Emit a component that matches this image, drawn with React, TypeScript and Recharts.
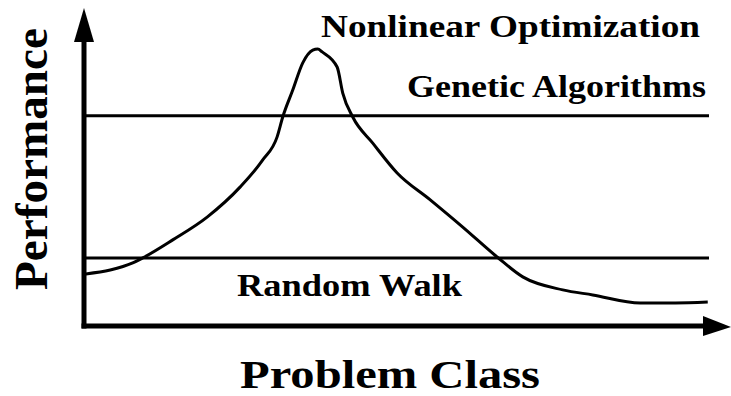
import { LineChart, Line, XAxis, YAxis, ReferenceLine } from "recharts";

// curve through problem classes (x) and performance (y), both on a 0-100 scale
const problemClass = [
  0.3, 4.2, 7.8, 9.4, 14.2, 19.7, 25.0, 28.6, 30.9, 31.8, 33.4, 35.0, 36.6, 37.4, 38.1,
  40.5, 41.4, 43.0, 46.2, 50.1, 55.4, 60.6, 66.1, 70.2, 76.6, 81.4, 89.0, 94.6, 99.8,
];
const nonlinearPerf = [
  17.6, 18.9, 21.3, 23.0, 29.1, 36.8, 47.0, 56.1, 63.9, 70.6, 79.7, 88.9, 93.2, 93.6, 92.6,
  87.5, 78.7, 70.6, 61.8, 51.7, 42.6, 33.4, 23.3, 16.6, 12.2, 10.5, 7.8, 7.8, 8.1,
];

// flat performance of the two reference methods
const methodNames = ["Genetic Algorithms", "Random Walk"];
const methodLevels = [71, 23];

const curveName = "Nonlinear Optimization";
const xTitle = "Problem Class";
const yTitle = "Performance";

const data = problemClass.map((x, i) => ({ x, perf: nonlinearPerf[i] }));

const font = "'Liberation Serif', 'Times New Roman', serif";

export default function App() {
  return (
    <div style={{ position: "absolute", left: 0, top: 0, width: 731, height: 396, background: "#fff" }}>
      <LineChart width={731} height={396} data={data} margin={{ top: 30, right: 22, left: 83, bottom: 69 }}>
        <defs>
          <marker id="arrowX" markerUnits="userSpaceOnUse" markerWidth={30} markerHeight={24} viewBox="0 0 30 24" refX={6} refY={12} orient="auto">
            <path d="M0,2 L28,13 L0,22 Z" fill="#000" />
          </marker>
          <marker id="arrowY" markerUnits="userSpaceOnUse" markerWidth={36} markerHeight={24} viewBox="0 0 36 24" refX={12} refY={12} orient="auto-start-reverse">
            <path d="M0,2 L34,12 L0,22 Z" fill="#000" />
          </marker>
        </defs>
        <XAxis
          dataKey="x"
          type="number"
          domain={[0, 100]}
          height={1}
          tick={false}
          tickLine={false}
          axisLine={{ stroke: "#000", strokeWidth: 5, strokeLinecap: "square", markerEnd: "url(#arrowX)" }}
        />
        <YAxis
          type="number"
          domain={[0, 100]}
          width={1}
          tick={false}
          tickLine={false}
          axisLine={{ stroke: "#000", strokeWidth: 5, strokeLinecap: "square", markerStart: "url(#arrowY)" }}
        />
        {methodLevels.map((v, i) => (
          <ReferenceLine key={methodNames[i]} y={v} stroke="#000" strokeWidth={3} />
        ))}
        <Line
          dataKey="perf"
          type="monotone"
          stroke="#000"
          strokeWidth={3}
          dot={false}
          isAnimationActive={false}
        />
        <g fontFamily={font} fontWeight="bold" fill="#000">
          <text x={321} y={37} fontSize={32} textLength={379} lengthAdjust="spacingAndGlyphs">{curveName}</text>
          <text x={407} y={97} fontSize={32} textLength={299} lengthAdjust="spacingAndGlyphs">{methodNames[0]}</text>
          <text x={237} y={296} fontSize={31} textLength={225} lengthAdjust="spacingAndGlyphs">{methodNames[1]}</text>
          <text x={240} y={388} fontSize={41} textLength={300} lengthAdjust="spacingAndGlyphs">{xTitle}</text>
          <text x={47} y={290} fontSize={46} textLength={262} lengthAdjust="spacingAndGlyphs" transform="rotate(-90 47 290)">{yTitle}</text>
        </g>
      </LineChart>
    </div>
  );
}
